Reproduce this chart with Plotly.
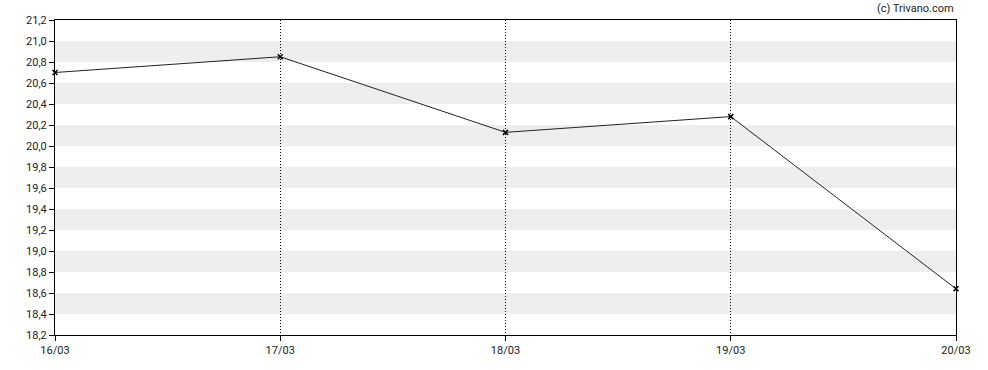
import plotly.graph_objects as go

dates = ["16/03", "17/03", "18/03", "19/03", "20/03"]
prices = [20.70, 20.85, 20.13, 20.28, 18.64]
y_min, y_max, y_step = 18.2, 21.2, 0.2
copyright_text = "(c) Trivano.com"

fig = go.Figure()
fig.add_trace(go.Scatter(
    x=dates, y=prices, mode="lines+markers",
    line=dict(color="#222222", width=1),
    marker=dict(symbol="x-thin", size=5, color="#000000",
                line=dict(width=1.5, color="#000000")),
    cliponaxis=False,
    hoverinfo="x+y",
))

# alternating horizontal bands
n = int(round((y_max - y_min) / y_step))
for i in range(n):
    lo = y_min + i * y_step
    if i % 2 == 1:
        fig.add_shape(type="rect", xref="paper", yref="y", x0=0, x1=1,
                      y0=lo, y1=lo + y_step, fillcolor="#eeeeee",
                      line=dict(width=0), layer="below")

fig.add_annotation(text=copyright_text, xref="paper", yref="paper",
                   x=1.0, y=1 + 11 / 315, xanchor="right", yanchor="middle",
                   showarrow=False, font=dict(size=11, color="#222222"))

fig.update_layout(
    width=988, height=370,
    margin=dict(l=55, r=32, t=20, b=35),
    paper_bgcolor="white", plot_bgcolor="white",
    font=dict(family="Roboto", size=11, color="#222222"),
    separators=",.",
    showlegend=False,
)
fig.update_xaxes(
    type="category", range=[0, len(dates) - 1],
    showline=True, linecolor="black", linewidth=1, mirror=True,
    ticks="outside", ticklen=5, tickcolor="black",
    showgrid=True, gridcolor="black", griddash="1px,2px", gridwidth=1,
    zeroline=False,
)
fig.update_yaxes(
    range=[y_min, y_max], dtick=y_step, tick0=y_min, tickformat=".1f",
    showline=True, linecolor="black", linewidth=1, mirror=True,
    ticks="outside", ticklen=5, tickcolor="black",
    showgrid=False, zeroline=False,
)
fig.write_html("out.html")
